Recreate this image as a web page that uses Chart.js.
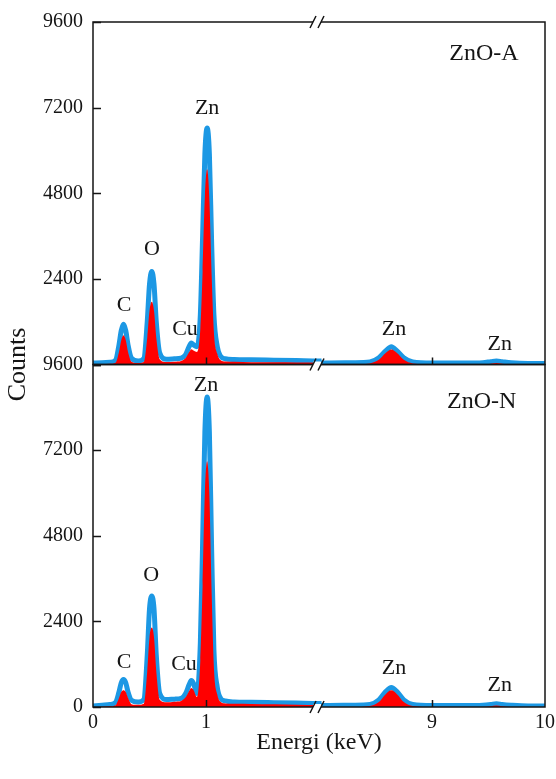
<!DOCTYPE html>
<html>
<head>
<meta charset="utf-8">
<script src="https://cdn.jsdelivr.net/npm/chart.js@4.4.1/dist/chart.umd.min.js"></script>
<style>
  html, body { margin: 0; padding: 0; background: #fff; }
  #wrap { width: 556px; height: 779px; }
</style>
</head>
<body>
<div id="wrap"><canvas id="eds" width="556" height="779"></canvas></div>
<script>
// EDS spectra, energies in keV. Axis is broken between 2 and 8 keV.
const energy = [
  0.00, 0.08, 0.15, 0.20, 0.23, 0.25, 0.27, 0.29, 0.31, 0.34,
  0.40, 0.45, 0.48, 0.50, 0.52, 0.54, 0.56, 0.59, 0.65, 0.72,
  0.78, 0.82, 0.85, 0.87, 0.89, 0.92, 0.95, 0.97, 0.99, 1.01,
  1.03, 1.05, 1.07, 1.10, 1.13, 1.17, 1.25, 1.40, 1.60, 1.80, 2.00,
  8.00, 8.30, 8.45, 8.53, 8.59, 8.64, 8.69, 8.75, 8.83, 9.00,
  9.30, 9.45, 9.52, 9.57, 9.62, 9.70, 9.85, 10.00
];

// ZnO-A
const blueA = [
  40, 50, 60, 120, 550, 950, 1130, 950, 550, 180,
  100, 170, 1200, 2250, 2610, 2250, 1200, 330, 150, 160,
  180, 280, 500, 600, 550, 500, 1400, 3600, 5900, 6630,
  5900, 3400, 1400, 500, 230, 160, 140, 130, 120, 110, 100,
  40, 50, 70, 190, 380, 500, 380, 190, 70, 40,
  40, 50, 80, 100, 80, 50, 30, 30
];
const redA = [
  0, 10, 20, 50, 350, 680, 820, 680, 350, 80,
  40, 70, 750, 1500, 1760, 1500, 750, 150, 70, 80,
  100, 180, 340, 430, 390, 350, 1000, 2600, 4700, 5470,
  4600, 2500, 900, 300, 120, 85, 75, 65, 60, 55, 50,
  0, 0, 30, 130, 320, 420, 320, 130, 30, 0,
  0, 0, 20, 40, 20, 0, 0, 0
];

// ZnO-N
const blueN = [
  30, 50, 70, 130, 420, 680, 770, 680, 420, 190,
  140, 210, 1450, 2750, 3110, 2750, 1450, 380, 210, 220,
  240, 380, 620, 740, 660, 380, 1800, 4600, 7700, 8690,
  7700, 4400, 1600, 550, 240, 170, 140, 130, 120, 110, 100,
  40, 50, 70, 200, 430, 545, 430, 200, 70, 40,
  40, 50, 70, 90, 70, 50, 30, 30
];
const redN = [
  0, 10, 20, 50, 250, 420, 470, 420, 250, 80,
  60, 90, 1000, 1950, 2230, 1950, 1000, 200, 130, 150,
  170, 270, 440, 530, 470, 280, 1300, 3400, 6000, 6890,
  5900, 3200, 1100, 350, 140, 100, 90, 85, 75, 65, 55,
  0, 0, 30, 140, 360, 470, 360, 140, 30, 0,
  0, 0, 20, 40, 20, 0, 0, 0
];

// tick labels on the broken axis (axis units -> keV text)
const xTickText = { 0: '0', 1: '1', 3: '9', 4: '10' };
const xTickMarks = [1, 3];

// peak annotations: [text, keV, counts]
const peaksA = [['C', 0.274, 1675], ['O', 0.522, 3240], ['Cu', 0.814, 1000],
                ['Zn', 1.01, 7170], ['Zn', 8.664, 1000], ['Zn', 9.60, 560]];
const peaksN = [['C', 0.274, 1255], ['O', 0.515, 3680], ['Cu', 0.805, 1200],
                ['Zn', 1.00, 9010], ['Zn', 8.664, 1090], ['Zn', 9.60, 614]];
const sampleA = ['ZnO-A', 9.46, 8700];
const sampleN = ['ZnO-N', 9.44, 8565];

const SERIF = "'Liberation Serif', 'Times New Roman', serif";
const BLUE = 'rgb(28,152,228)';
const RED = '#ff0000';

// keV -> position on the broken axis
const toAxis = e => (e <= 2 ? e : e - 6);
const pts = vals => vals.map((v, i) => ({ x: toAxis(energy[i]), y: v }));

const decor = {
  id: 'decor',
  afterDatasetsDraw(chart) {
    const { ctx } = chart;
    const x = chart.scales.x;
    const panels = [
      { y: chart.scales.yA, peaks: peaksA, name: sampleA },
      { y: chart.scales.yN, peaks: peaksN, name: sampleN }
    ];
    ctx.save();
    ctx.strokeStyle = '#151515';
    ctx.lineWidth = 1.5;

    panels.forEach(p => {
      const y = p.y;
      ctx.strokeRect(x.left, y.top, x.right - x.left, y.bottom - y.top);

      // inward y ticks
      ctx.beginPath();
      y.ticks.forEach(t => {
        const py = Math.round(y.getPixelForValue(t.value)) + 0.5;
        const len = t.value % 2400 === 0 ? 8 : 4;
        ctx.moveTo(x.left, py);
        ctx.lineTo(x.left + len, py);
      });
      // inward x ticks
      xTickMarks.forEach(v => {
        const px = Math.round(x.getPixelForValue(v)) + 0.5;
        ctx.moveTo(px, y.bottom);
        ctx.lineTo(px, y.bottom - 7);
      });
      ctx.stroke();

      // labels
      ctx.fillStyle = '#151515';
      ctx.textAlign = 'center';
      ctx.textBaseline = 'middle';
      ctx.font = '22px ' + SERIF;
      p.peaks.forEach(([txt, e, c]) => {
        ctx.fillText(txt, x.getPixelForValue(toAxis(e)), y.getPixelForValue(c));
      });
      ctx.font = '24px ' + SERIF;
      ctx.fillText(p.name[0], x.getPixelForValue(toAxis(p.name[1])), y.getPixelForValue(p.name[2]));
    });

    // axis break marks
    const bx = x.getPixelForValue(2) - 2;
    const ys = [chart.scales.yA.top, chart.scales.yA.bottom, chart.scales.yN.bottom];
    ys.forEach(by => {
      ctx.fillStyle = '#fff';
      ctx.fillRect(bx - 4, by - 3, 8, 6);
      ctx.beginPath();
      ctx.moveTo(bx - 7, by + 6); ctx.lineTo(bx - 1, by - 6);
      ctx.moveTo(bx + 1, by + 6); ctx.lineTo(bx + 7, by - 6);
      ctx.stroke();
    });

    // y title
    ctx.fillStyle = '#151515';
    ctx.font = '26px ' + SERIF;
    ctx.translate(18, (chart.scales.yA.top + chart.scales.yN.bottom) / 2);
    ctx.rotate(-Math.PI / 2);
    ctx.fillText('Counts', 0, 0);
    ctx.restore();
  }
};

const yAxis = (hideZero) => ({
  type: 'linear',
  position: 'left',
  stack: 'panels',
  stackWeight: 1,
  min: 0,
  max: 9600,
  afterFit: s => { s.width = 93; },
  grid: { display: false, drawTicks: false },
  border: { display: false },
  ticks: {
    stepSize: 1200,
    padding: 10,
    color: '#151515',
    font: { family: SERIF, size: 20 },
    callback: v => (v % 2400 !== 0 || (hideZero && v === 0) ? '' : String(v))
  }
});

new Chart(document.getElementById('eds'), {
  type: 'line',
  data: {
    datasets: [
      { data: pts(redA), yAxisID: 'yA', fill: 'origin', backgroundColor: RED, borderWidth: 0, pointRadius: 0, cubicInterpolationMode: 'monotone', order: 0 },
      { data: pts(blueA), yAxisID: 'yA', fill: false, borderColor: BLUE, borderWidth: 5, pointRadius: 0, cubicInterpolationMode: 'monotone', order: 1 },
      { data: pts(redN), yAxisID: 'yN', fill: 'origin', backgroundColor: RED, borderWidth: 0, pointRadius: 0, cubicInterpolationMode: 'monotone', order: 0 },
      { data: pts(blueN), yAxisID: 'yN', fill: false, borderColor: BLUE, borderWidth: 5, pointRadius: 0, cubicInterpolationMode: 'monotone', order: 1 }
    ]
  },
  options: {
    responsive: false,
    animation: false,
    layout: { padding: { top: 19, right: 11, left: 0, bottom: 0 } },
    plugins: { legend: { display: false }, tooltip: { enabled: false } },
    scales: {
      x: {
        type: 'linear',
        min: 0,
        max: 4,
        afterFit: s => { s.height = 72; s.paddingRight = 0; s.paddingLeft = 0; },
        grid: { display: false, drawTicks: false },
        border: { display: false },
        ticks: {
          stepSize: 1,
          padding: 4,
          maxRotation: 0,
          color: '#151515',
          font: { family: SERIF, size: 20 },
          callback: v => xTickText[v] || ''
        },
        title: {
          display: true,
          text: 'Energi (keV)',
          color: '#151515',
          font: { family: SERIF, size: 24 },
          padding: { top: 0, bottom: 22 }
        }
      },
      yN: yAxis(false),
      yA: yAxis(true)
    }
  },
  plugins: [decor]
});
</script>
</body>
</html>
